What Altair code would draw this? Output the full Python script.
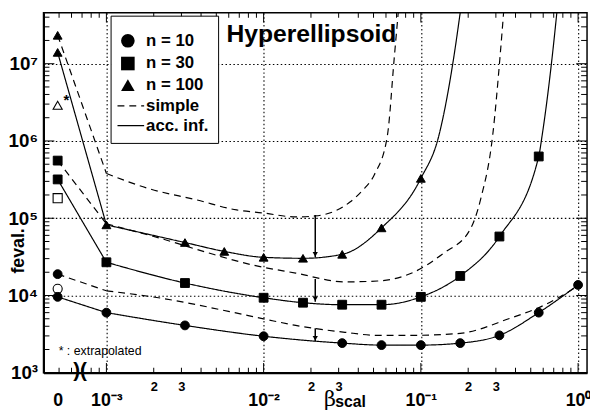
import math
import altair as alt
import pandas as pd

# ---------------- data ----------------
# "acc. inf." runs: measured points (solid line, filled markers)
beta_n10 = [0, 0.001, 0.00316, 0.01, 0.0316, 0.0562, 0.1, 0.178, 0.316, 0.562, 1.0]
feval_n10 = [9.6e3, 6.0e3, 4.1e3, 2.97e3, 2.42e3, 2.28e3, 2.28e3, 2.42e3, 3.05e3, 6.0e3, 1.37e4]
beta_n30 = [0, 0.001, 0.00316, 0.01, 0.0178, 0.0316, 0.0562, 0.1, 0.178, 0.316, 0.562]
feval_n30 = [3.18e5, 2.69e4, 1.45e4, 9.35e3, 8.07e3, 7.6e3, 7.6e3, 9.6e3, 1.79e4, 5.8e4, 6.3e5]
beta_n100 = [0, 0.001, 0.00316, 0.00562, 0.01, 0.0178, 0.0316, 0.0562, 0.1]
feval_n100 = [1.4e7, 8.2e4, 4.85e4, 3.72e4, 3.12e4, 3.03e4, 3.41e4, 7.5e4, 3.28e5]

# continuation of the acc. inf. curves beyond the last marker
beta_n30_tail = [0.59, 0.682, 0.733]
feval_n30_tail = [1.16e6, 1.15e7, 4.6e7]
beta_n100_tail = [0.130, 0.161, 0.178]
feval_n100_tail = [1.16e6, 1.12e7, 4.6e7]

# "simple" runs (dashed curves, filled marker at beta = 0)
beta_s10 = [0, 0.001, 0.00234, 0.00608, 0.0104, 0.016, 0.0329, 0.053, 0.0903, 0.178, 0.366, 0.617, 1.0]
feval_s10 = [1.89e4, 1.15e4, 9.08e3, 6.19e3, 4.9e3, 4.1e3, 3.34e3, 3.05e3, 3.05e3, 3.24e3, 5.04e3, 7.6e3, 1.33e4]
beta_s30 = [0, 0.001, 0.00234, 0.00435, 0.00859, 0.016, 0.0329, 0.053, 0.0903, 0.139, 0.2055, 0.241, 0.287, 0.318, 0.336]
feval_s30 = [5.57e5, 8.47e4, 5.3e4, 3.61e4, 2.47e4, 1.95e4, 1.5e4, 1.54e4, 2.01e4, 3.51e4, 7.11e4, 1.82e5, 1.23e6, 1.15e7, 4.59e7]
beta_s100 = [0, 0.001, 0.00183, 0.00378, 0.00673, 0.00993, 0.016, 0.0213, 0.0285, 0.0354, 0.0427, 0.0507, 0.0612, 0.0678, 0.0718]
feval_s100 = [2.33e7, 3.8e5, 2.44e5, 1.72e5, 1.28e5, 1.17e5, 1.04e5, 1.07e5, 1.24e5, 1.62e5, 2.31e5, 3.69e5, 1.16e6, 1.22e7, 4.59e7]

# open markers at beta = 0 (third value, n=100 one extrapolated)
open_feval = [1.22e4, 1.82e5, 2.9e6]

# arrows simple -> acc. inf.
arrow_beta = [0.0213, 0.0213, 0.0213]
arrow_top = [1.10e5, 1.63e4, 3.76e3]
arrow_bottom = [3.12e4, 8.3e3, 2.56e3]

n_labels = ["n = 10", "n = 30", "n = 100"]
style_labels = ["simple", "acc. inf."]

# axis ticks / labels
x_label_beta = [0, 0.001, 0.002, 0.003, 0.01, 0.02, 0.03, 0.1, 0.2, 0.3, 1.0]
x_major_ticks = [0.001, 0.01, 0.1, 1.0]
x_minor_ticks = [0.0004, 0.0005, 0.0006, 0.0007, 0.0008, 0.0009,
                 0.002, 0.003, 0.004, 0.005, 0.006, 0.007, 0.008, 0.009,
                 0.02, 0.03, 0.04, 0.05, 0.06, 0.07, 0.08, 0.09,
                 0.2, 0.3, 0.4, 0.5, 0.6, 0.7, 0.8, 0.9]
y_label_values = [1e3, 1e4, 1e5, 1e6, 1e7]
y_major_ticks = [1e4, 1e5, 1e6, 1e7]
y_minor_ticks = [2e3, 3e3, 4e3, 5e3, 6e3, 7e3, 8e3, 9e3,
                 2e4, 3e4, 4e4, 5e4, 6e4, 7e4, 8e4, 9e4,
                 2e5, 3e5, 4e5, 5e5, 6e5, 7e5, 8e5, 9e5,
                 2e6, 3e6, 4e6, 5e6, 6e6, 7e6, 8e6, 9e6,
                 2e7, 3e7, 4e7]

# ---------------- scales ----------------
ZERO_POS = -3.31
XMIN, XMAX = -3.40, 0.057
YMIN, YMAX = 1e3, 4.57e7
FONT = "Liberation Sans"
LX = f"datum.beta == 0 ? {ZERO_POS} : log(datum.beta) / LN10"
XSCALE = alt.Scale(domain=[XMIN, XMAX], nice=False, zero=False)
YSCALE = alt.Scale(type="log", domain=[YMIN, YMAX], nice=False)

MAJOR = "abs(datum.value - round(datum.value)) < 0.001 || datum.value < -3.2"
GRIDT = "abs(datum.value - round(datum.value)) < 0.001"

x_axis = alt.Axis(
    values=[ZERO_POS if b == 0 else math.log10(b) for b in x_label_beta],
    labelExpr=("datum.value < -3.2 ? '0' : (abs(datum.value - round(datum.value)) < 0.001 ? "
               "['10⁻³','10⁻²','10⁻¹','10⁰'][round(datum.value) + 3] : "
               "format(pow(10, datum.value - floor(datum.value)), '.0f'))"),
    labelFont=FONT, labelFontWeight="bold", labelColor="black",
    labelFontSize={"condition": {"test": MAJOR, "value": 18}, "value": 13},
    labelPadding={"condition": {"test": MAJOR, "value": 19}, "value": 8},
    labelFlush=False, labelOverlap=False, ticks=False, tickSize=0,
    grid=True, gridColor="black", gridDash=[1.5, 2.5], gridWidth=1.1,
    gridOpacity={"condition": {"test": GRIDT, "value": 1}, "value": 0},
    domainColor="black", domainWidth=2,
    title="β", titleFont="DejaVu Serif", titleFontSize=21, titleFontWeight="normal",
    titleColor="black", titleX=290, titleY=33, titleAlign="center", titleBaseline="alphabetic",
)
y_axis = alt.Axis(
    values=y_label_values,
    labelExpr="['10³','10⁴','10⁵','10⁶','10⁷'][round(log(datum.value) / LN10) - 3]",
    labelFont=FONT, labelFontWeight="bold", labelFontSize=19, labelColor="black",
    labelPadding=6, labelFlush=False, labelOverlap=False, ticks=False, tickSize=0,
    grid=True, gridColor="black", gridDash=[1.5, 2.5], gridWidth=1.1,
    domainColor="black", domainWidth=2,
    title="feval.", titleFont=FONT, titleFontSize=18, titleFontWeight="bold", titleColor="black",
    titleAngle=270, titleX=-25, titleY=241, titleAlign="center", titleBaseline="middle",
)


def X(axis=alt.Undefined):
    return alt.X("lx:Q", scale=XSCALE, axis=axis)


def Y(axis=alt.Undefined, field="feval"):
    return alt.Y(f"{field}:Q", scale=YSCALE, axis=axis)


# ---------------- tables ----------------
acc_sets = [(beta_n10, feval_n10, [], []),
            (beta_n30, feval_n30, beta_n30_tail, feval_n30_tail),
            (beta_n100, feval_n100, beta_n100_tail, feval_n100_tail)]
simple_sets = [(beta_s10, feval_s10), (beta_s30, feval_s30), (beta_s100, feval_s100)]

lead_rows, curve_rows, marker_rows = [], [], []
for lab, (b, f, bt, ft) in zip(n_labels, acc_sets):
    cid = lab + " acc"
    for bi, fi in zip(b[:2], f[:2]):
        lead_rows.append(dict(beta=bi, feval=fi, cid=cid, style="acc. inf."))
    for bi, fi in zip(b[1:] + bt, f[1:] + ft):
        curve_rows.append(dict(beta=bi, feval=fi, cid=cid, style="acc. inf."))
    for bi, fi in zip(b, f):
        marker_rows.append(dict(beta=bi, feval=fi, n=lab))
for lab, (b, f) in zip(n_labels, simple_sets):
    cid = lab + " simple"
    for bi, fi in zip(b[:2], f[:2]):
        lead_rows.append(dict(beta=bi, feval=fi, cid=cid, style="simple"))
    for bi, fi in zip(b[1:], f[1:]):
        curve_rows.append(dict(beta=bi, feval=fi, cid=cid, style="simple"))
    marker_rows.append(dict(beta=b[0], feval=f[0], n=lab))

lead_df = pd.DataFrame(lead_rows)
curve_df = pd.DataFrame(curve_rows)
marker_df = pd.DataFrame(marker_rows)
open_df = pd.DataFrame(dict(beta=[0, 0, 0], feval=open_feval, n=n_labels))
arrow_df = pd.DataFrame(dict(beta=arrow_beta, top=arrow_top, bottom=arrow_bottom))

# legend box: markers + the two line-style labels (their line samples come from the
# strokeDash legend drawn on top of the blank symbol slots)
shape_scale = alt.Scale(domain=n_labels + style_labels,
                        range=["circle", "square", "triangle-up", "M0,0", "M0,0"])
marker_legend = alt.Legend(
    orient="none", legendX=68, legendY=3, zindex=1,
    title="\u00a0", titleFontSize=8, titlePadding=0,
    direction="vertical", labelFont=FONT, labelFontWeight="bold", labelFontSize=17,
    labelColor="black", labelOffset=10, labelLimit=300,
    symbolSize=190, symbolFillColor="black", symbolStrokeColor="black",
    symbolStrokeWidth=1.5, symbolOpacity=1,
    fillColor="white", strokeColor="black", padding=9, rowPadding=2,
)
dash_legend = alt.Legend(
    orient="none", legendX=74, legendY=80, zindex=2, title=None,
    direction="vertical", symbolType="stroke", symbolSize=729,
    symbolStrokeColor="black", symbolStrokeWidth=1.4, symbolOpacity=1,
    labelExpr="''", labelFontSize=10, labelOffset=2, padding=0, rowPadding=-7.5,
)
dash_scale = alt.Scale(domain=style_labels, range=[[7, 5], [1, 0]])

# ---------------- layers ----------------
lead = alt.Chart(lead_df).transform_calculate(lx=LX).mark_line(
    color="black", strokeWidth=1.2, clip=True, interpolate="linear"
).encode(x=X(x_axis), y=Y(y_axis), detail="cid:N",
         strokeDash=alt.StrokeDash("style:N", scale=dash_scale, legend=dash_legend))

curve = alt.Chart(curve_df).transform_calculate(lx=LX).mark_line(
    color="black", strokeWidth=1.2, clip=True, interpolate="monotone"
).encode(x=X(), y=Y(), detail="cid:N",
         strokeDash=alt.StrokeDash("style:N", scale=dash_scale))

arrow_rule = alt.Chart(arrow_df).transform_calculate(lx=LX).mark_rule(
    color="black", strokeWidth=1.5
).encode(x=X(), y=Y(field="top"), y2="bottom:Q")

arrow_head = alt.Chart(arrow_df).transform_calculate(lx=LX).mark_point(
    shape="triangle-down", filled=True, color="black", size=28, opacity=1, yOffset=-3
).encode(x=X(), y=Y(field="bottom"))

filled_pts = alt.Chart(marker_df).transform_calculate(lx=LX).mark_point(
    filled=False, fill="black", stroke="black", color="black", strokeWidth=1, size=80, opacity=1
).encode(x=X(), y=Y(), shape=alt.Shape("n:N", scale=shape_scale, legend=marker_legend))

open_pts = alt.Chart(open_df).transform_calculate(lx=LX).mark_point(
    filled=False, color="black", strokeWidth=1.1, size=85, opacity=1
).encode(x=X(), y=Y(), shape=alt.Shape("n:N", scale=shape_scale))

star_df = pd.DataFrame(dict(beta=[0], feval=[open_feval[2]], text=["*"]))
star = alt.Chart(star_df).transform_calculate(lx=LX).mark_text(
    font=FONT, fontWeight="bold", fontSize=15, color="black", align="left",
    baseline="middle", dx=6, dy=-5
).encode(x=X(), y=Y(), text="text:N")

note_df = pd.DataFrame(dict(beta=[0], feval=[1.91e3], text=["* : extrapolated"]))
note = alt.Chart(note_df).transform_calculate(lx=LX).mark_text(
    font=FONT, fontSize=12.5, color="black", align="left", baseline="middle", dx=1
).encode(x=X(), y=Y(), text="text:N")

brk_df = pd.DataFrame(dict(beta=[0.00068], feval=[1e3], text=[")("]))
brk = alt.Chart(brk_df).transform_calculate(lx=LX).mark_text(
    font=FONT, fontWeight="bold", fontSize=21, color="black", align="center", baseline="middle", dy=-2
).encode(x=X(), y=Y(), text="text:N")

sub_df = pd.DataFrame(dict(beta=[0.0285], feval=[357], text=["scal"]))
sub = alt.Chart(sub_df).transform_calculate(lx=LX).mark_text(
    font=FONT, fontWeight="bold", fontSize=16, color="black", align="left", baseline="alphabetic"
).encode(x=X(), y=Y(), text="text:N")


def xticks(vals, size, ypos, off):
    df = pd.DataFrame(dict(beta=vals))
    return alt.Chart(df).transform_calculate(lx=LX).mark_tick(
        orient="vertical", size=size, thickness=1, color="black", opacity=1, yOffset=off
    ).encode(x=X(), y=alt.YDatum(ypos, scale=YSCALE))


def yticks(vals, size, xpos, off):
    df = pd.DataFrame(dict(feval=vals))
    return alt.Chart(df).mark_tick(
        orient="horizontal", size=size, thickness=1, color="black", opacity=1, xOffset=off
    ).encode(y=Y(), x=alt.XDatum(xpos, scale=XSCALE))


tick_layers = [
    xticks(x_minor_ticks, 5, YMIN, -2.5), xticks(x_major_ticks, 10, YMIN, -5),
    xticks(x_minor_ticks, 5, YMAX, 2.5), xticks(x_major_ticks, 10, YMAX, 5),
    yticks(y_minor_ticks, 6, XMIN, 3), yticks(y_major_ticks, 11, XMIN, 5.5),
    yticks(y_minor_ticks, 6, XMAX, -3), yticks(y_major_ticks, 11, XMAX, -5.5),
]

chart = alt.layer(
    lead, curve, arrow_rule, arrow_head, *tick_layers, filled_pts, open_pts,
    star, note, brk, sub,
).properties(
    width=551, height=365,
    autosize=alt.AutoSizeParams(type="none"),
    padding={"left": 36, "top": 2, "right": 3, "bottom": 37},
    title=alt.TitleParams(
        "Hyperellipsoid", anchor="start", orient="top", dx=222, dy=55, offset=0,
        baseline="alphabetic", font=FONT, fontSize=25, fontWeight="bold", color="black",
    ),
    background="white",
).configure_view(
    stroke="black", strokeWidth=1.5
)

chart.save("out.html", embed_options={"renderer": "svg", "actions": False})
